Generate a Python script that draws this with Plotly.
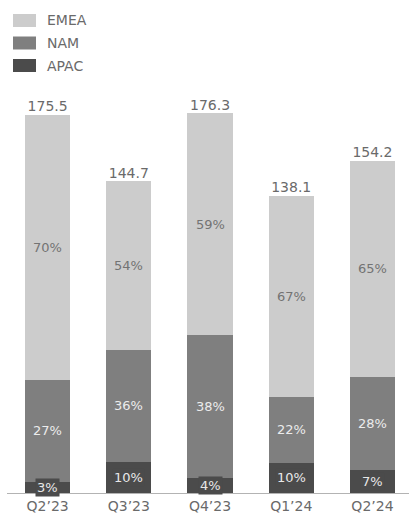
import plotly.graph_objects as go

quarters = ["Q2\u201923", "Q3\u201923", "Q4\u201923", "Q1\u201924", "Q2\u201924"]
totals = [175.5, 144.7, 176.3, 138.1, 154.2]
apac_pct = [3, 10, 4, 10, 7]
nam_pct = [27, 36, 38, 22, 28]
emea_pct = [70, 54, 59, 67, 65]

C_EMEA = "#cccccc"
C_NAM = "#7f7f7f"
C_APAC = "#4b4b4b"
TXT = "#6a6a6a"
FONT = "DejaVu Sans"

def seg(pcts):
    out = []
    for i, t in enumerate(totals):
        s = apac_pct[i] + nam_pct[i] + emea_pct[i]
        out.append(t * pcts[i] / s)
    return out

apac = seg(apac_pct)
nam = seg(nam_pct)
emea = seg(emea_pct)

fig = go.Figure()
for name, vals, col in [("APAC", apac, C_APAC), ("NAM", nam, C_NAM), ("EMEA", emea, C_EMEA)]:
    fig.add_trace(go.Bar(x=quarters, y=vals, name=name, marker=dict(color=col, line=dict(width=0)),
                         showlegend=False, hoverinfo="skip"))

# totals above bars
fig.add_trace(go.Scatter(x=quarters, y=totals, mode="text", text=[f"{t:.1f}" for t in totals],
                         textposition="top center", textfont=dict(family=FONT, size=14, color=TXT),
                         showlegend=False, hoverinfo="skip", cliponaxis=False))

annots = []
for i, q in enumerate(quarters):
    annots.append(dict(x=q, y=apac[i] / 2, text=f"{apac_pct[i]}%", showarrow=False,
                       font=dict(family=FONT, size=13, color="#e8e8e8"),
                       bgcolor=C_APAC, borderpad=1, xref="x", yref="y"))
    annots.append(dict(x=q, y=apac[i] + nam[i] / 2, text=f"{nam_pct[i]}%", showarrow=False,
                       font=dict(family=FONT, size=13, color="#ececec"), xref="x", yref="y"))
    annots.append(dict(x=q, y=apac[i] + nam[i] + emea[i] / 2, text=f"{emea_pct[i]}%", showarrow=False,
                       font=dict(family=FONT, size=13, color="#737373"), xref="x", yref="y"))

# manual legend
W, H = 409, 515
ML, MR, MT, MB = 7, 0, 60, 22
PW = W - ML - MR
PH = H - MT - MB
def px(xp):
    return (xp - ML) / PW
def py(yp):
    return (H - MB - yp) / PH

shapes = []
for j, (name, col) in enumerate([("EMEA", C_EMEA), ("NAM", C_NAM), ("APAC", C_APAC)]):
    top = 14 + j * 22.5
    shapes.append(dict(type="rect", xref="paper", yref="paper", x0=px(13), x1=px(36),
                       y0=py(top + 13), y1=py(top), fillcolor=col, line=dict(width=0)))
    annots.append(dict(xref="paper", yref="paper", x=px(45), y=py(top + 6.5), text=name,
                       xanchor="left", yanchor="middle", showarrow=False,
                       font=dict(family=FONT, size=14, color=TXT)))

fig.update_layout(
    barmode="stack", bargap=0.445,
    width=W, height=H, margin=dict(l=ML, r=MR, t=MT, b=MB),
    paper_bgcolor="white", plot_bgcolor="white",
    xaxis=dict(range=[-0.5, 4.45], showgrid=False, showline=True, linecolor="#b3b3b3", linewidth=1,
               ticks="", tickfont=dict(family=FONT, size=14, color=TXT), fixedrange=True),
    yaxis=dict(range=[0, PH / 2.154], visible=False, showgrid=False, zeroline=False, fixedrange=True),
    annotations=annots, shapes=shapes,
    font=dict(family=FONT),
)

fig.write_html("out.html", config={"displayModeBar": False})
